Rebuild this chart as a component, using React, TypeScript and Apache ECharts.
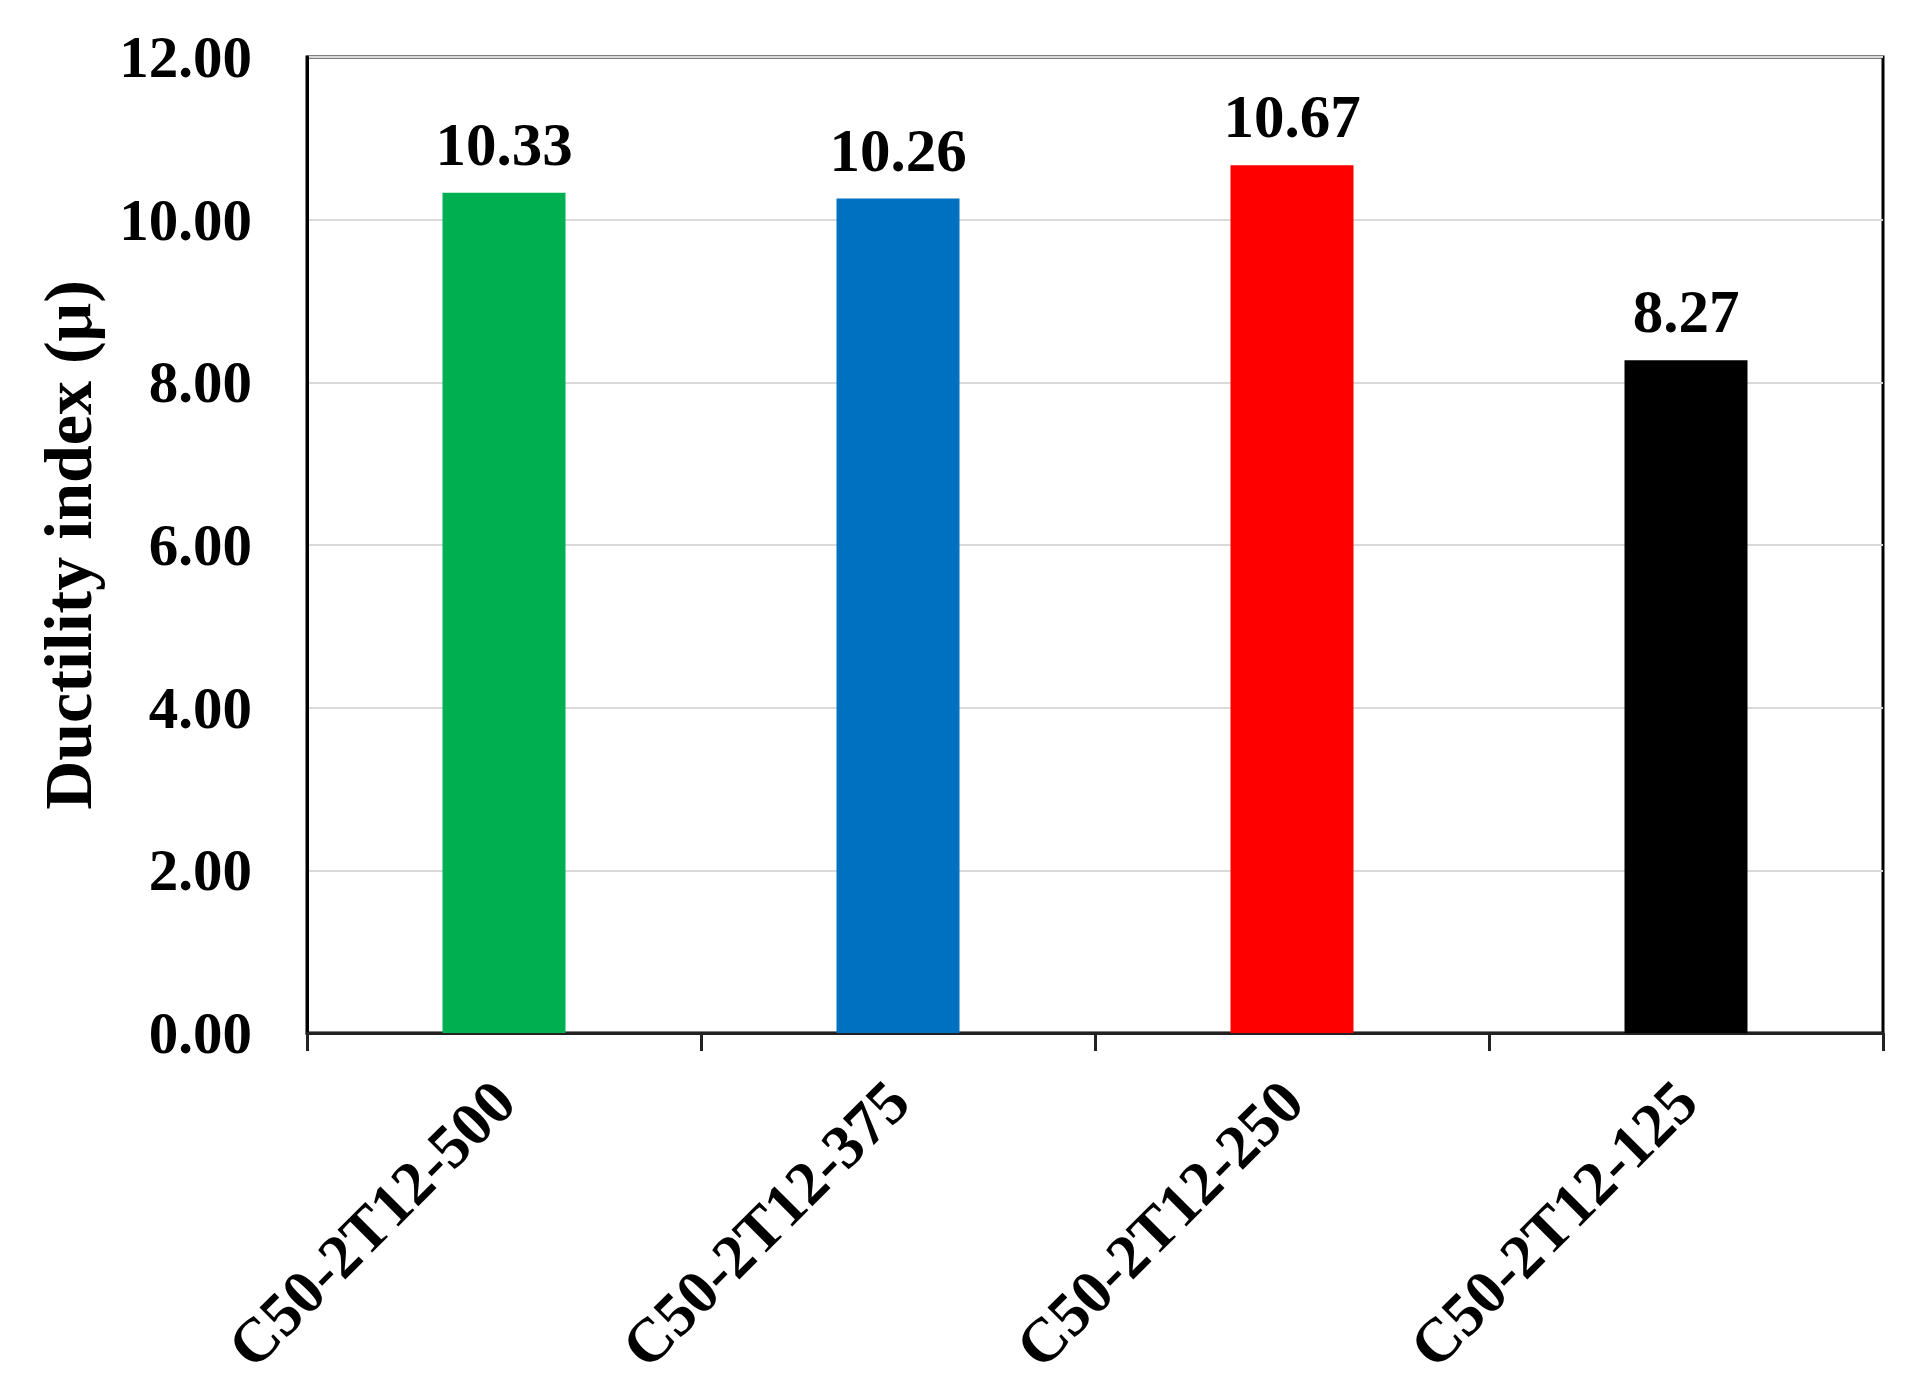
import React, { useEffect, useRef } from "react";
import * as echarts from "echarts";

const categories = ["C50-2T12-500", "C50-2T12-375", "C50-2T12-250", "C50-2T12-125"];
const ductility = [10.33, 10.26, 10.67, 8.27];
const barColors = ["#00B050", "#0070C0", "#FF0000", "#000000"];
const yTicks = { min: 0, max: 12, interval: 2 };
const yAxisTitle = "Ductility index (μ)";

const FONT = "Liberation Serif";

export default function App() {
  const ref = useRef<HTMLDivElement>(null);
  useEffect(() => {
    document.body.style.margin = "0";
    document.body.style.overflow = "hidden";
    document.documentElement.style.overflow = "hidden";
    const chart = echarts.init(ref.current!, null, { renderer: "svg" });
    chart.setOption({
      animation: false,
      backgroundColor: "#ffffff",
      grid: {
        left: 307,
        right: 43,
        top: 57,
        bottom: 348,
        show: true,
        borderColor: "#000000",
        borderWidth: 3,
        backgroundColor: "transparent",
      },
      xAxis: {
        type: "category",
        data: categories,
        axisLine: { lineStyle: { color: "#222222", width: 3 } },
        axisTick: { show: true, length: 18, lineStyle: { color: "#222222", width: 3 } },
        axisLabel: {
          rotate: 45,
          margin: 58,
          fontFamily: FONT,
          fontWeight: "bold",
          fontSize: 62,
          color: "#000000",
        },
      },
      yAxis: {
        type: "value",
        min: yTicks.min,
        max: yTicks.max,
        interval: yTicks.interval,
        name: yAxisTitle,
        nameLocation: "middle",
        nameGap: 205,
        nameTextStyle: {
          fontFamily: FONT,
          fontWeight: "bold",
          fontSize: 68,
          color: "#000000",
        },
        axisLine: { show: true, lineStyle: { color: "#000000", width: 3 } },
        axisTick: { show: false },
        splitLine: { lineStyle: { color: "#d9d9d9", width: 2 } },
        axisLabel: {
          margin: 55,
          fontFamily: FONT,
          fontWeight: "bold",
          fontSize: 59,
          color: "#000000",
          formatter: (v: number) => v.toFixed(2),
        },
      },
      series: [
        {
          type: "bar",
          data: ductility.map((v, i) => ({ value: v, itemStyle: { color: barColors[i] } })),
          barWidth: 123,
          label: {
            show: true,
            position: "top",
            distance: 18,
            fontFamily: FONT,
            fontWeight: "bold",
            fontSize: 61,
            color: "#000000",
            formatter: (p: any) => p.value.toFixed(2),
          },
        },
      ],
    });
    return () => chart.dispose();
  }, []);
  return <div ref={ref} style={{ width: 1926, height: 1381, overflow: "hidden" }} />;
}
